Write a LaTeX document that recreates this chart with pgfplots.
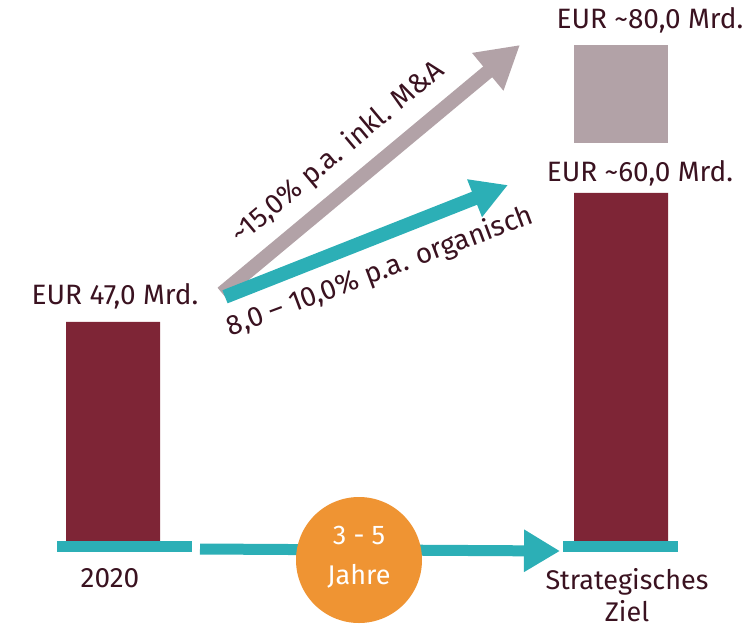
\documentclass[border=0pt]{standalone}
\usepackage{fontspec}
\setmainfont{Fira Sans}
\usepackage{pgfplots}
\pgfplotsset{compat=1.18}
\usetikzlibrary{arrows.meta}
\definecolor{bordeaux}{RGB}{126,37,54}
\definecolor{mauve}{RGB}{178,162,167}
\definecolor{petrol}{RGB}{44,175,182}
\definecolor{orangeb}{RGB}{239,148,51}
\definecolor{txt}{RGB}{58,18,32}
\tikzset{lbl/.style={font=\fontsize{28}{32}\selectfont, text=txt}}

\begin{document}
\begin{tikzpicture}
\begin{axis}[
  width=756pt, height=626pt, scale only axis,
  xmin=0, xmax=756, ymin=-18.24, ymax=116.09,
  hide axis, clip=false,
]
  % bars (heights as drawn)
  \addplot[ybar, bar width=94, bar shift=0, fill=bordeaux, draw=none]
    coordinates {(113,47) (621,74.68)};
  % floating M&A block
  \addplot[fill=mauve, draw=none]
    coordinates {(574,85.41) (668,85.41) (668,106.44) (574,106.44)} -- cycle;

  % base lines
  \addplot[petrol, line width=11pt] coordinates {(57,-1.18) (192,-1.18)};
  \addplot[petrol, line width=11pt] coordinates {(563,-1.18) (678,-1.18)};
  \addplot[petrol, line width=11pt, -{Triangle[length=36pt,width=40pt]}]
    coordinates {(200,-1.72) (560,-2.15)};

  % growth arrows
  \addplot[mauve, line width=14pt, -{Triangle[length=42pt,width=46pt]}]
    coordinates {(222,53.2) (520,106.44)};
  \addplot[petrol, line width=14pt, -{Triangle[length=36pt,width=38pt]}]
    coordinates {(225,52.4) (508,76.39)};

  \node[circle, fill=orangeb, minimum size=126pt, inner sep=0pt] at (axis cs:359,-4.08) {};
  \node[text=white, align=center, font=\fontsize{27}{40}\selectfont] at (axis cs:359,-3.4) {3 - 5\\Jahre};

  \node[lbl] at (axis cs:115,52.58) {EUR 47,0 Mrd.};
  \node[lbl] at (axis cs:640,78.97) {EUR \textasciitilde60,0 Mrd.};
  \node[lbl] at (axis cs:650,111.8) {EUR \textasciitilde80,0 Mrd.};
  \node[lbl, rotate=40] at (axis cs:338,83.26) {\textasciitilde15,0\% p.a. inkl. M\&A};
  \node[lbl, rotate=20.5] at (axis cs:380,57.73) {8,0 – 10,0\% p.a. organisch};
  \node[lbl] at (axis cs:110,-7.94) {2020};
  \node[lbl, align=center, font=\fontsize{27}{32}\selectfont] at (axis cs:627,-11.6) {Strategisches\\Ziel};
\end{axis}
\pgfresetboundingbox
\useasboundingbox (0,0) rectangle (756pt,626pt);
\end{tikzpicture}
\end{document}
